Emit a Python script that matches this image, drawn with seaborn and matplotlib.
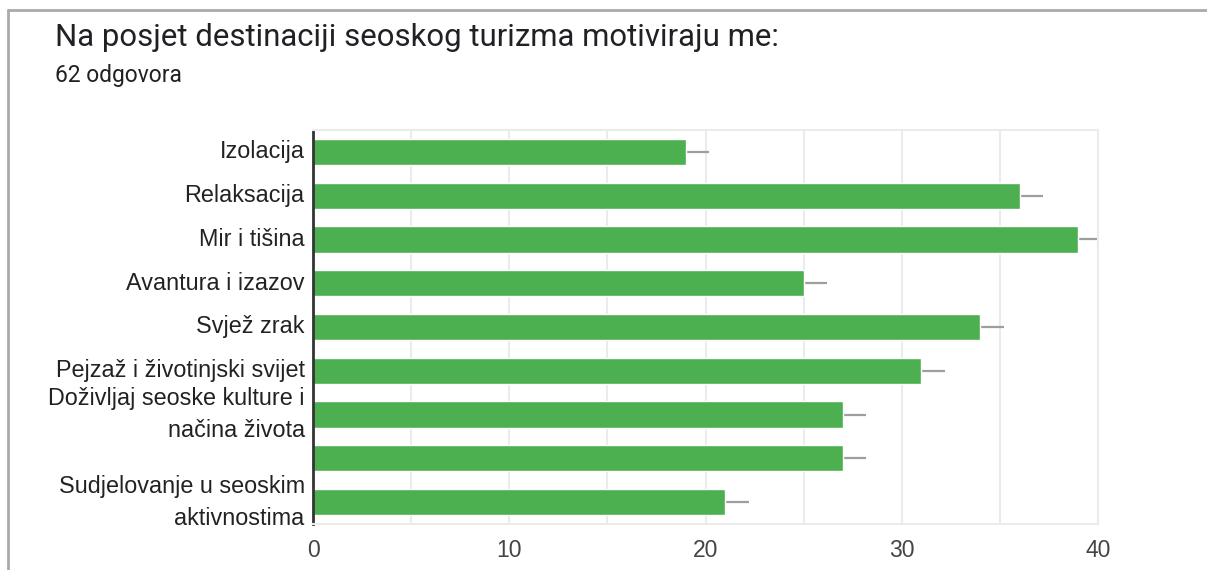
import numpy as np
import pandas as pd
import seaborn as sns
import matplotlib.pyplot as plt
import matplotlib.ticker as ticker
from matplotlib.lines import Line2D

# values
categories = ['Izolacija', 'Relaksacija', 'Mir i tišina', 'Avantura i izazov', 'Svjež zrak',
              'Pejzaž i životinjski svijet', 'Doživljaj seoske kulture i\nnačina života', ' ',
              'Sudjelovanje u seoskim\naktivnostima']
counts = [19, 36, 39, 25, 34, 31, 27, 27, 21]
err_hi = [1.2, 1.2, 1.1, 1.2, 1.2, 1.2, 1.2, 1.2, 1.2]
x_ticks = [0, 10, 20, 30, 40]

title = 'Na posjet destinaciji seoskog turizma motiviraju me:'
subtitle = '62 odgovora'

sns.set_theme(style='white')
plt.rcParams['font.family'] = ['Liberation Sans', 'DejaVu Sans']

df = pd.DataFrame({'kategorija': categories, 'broj': counts})

fig = plt.figure(figsize=(12.07, 5.70), dpi=100)
ax = fig.add_axes([313 / 1207, 1 - 524 / 570, (1098 - 313) / 1207, (524 - 130) / 570])

sns.barplot(data=df, x='broj', y='kategorija', orient='h', color='#4caf50',
            saturation=1, width=0.6, ax=ax, zorder=2)
ax.errorbar(df['broj'], np.arange(len(df)), xerr=[np.zeros(len(df)), err_hi],
            fmt='none', ecolor='#9e9e9e', elinewidth=1.6, capsize=0, zorder=1)

ax.set_xlim(0, 40)
ax.set_ylim(len(df) - 0.5, -0.5)
ax.xaxis.set_major_locator(ticker.FixedLocator(x_ticks))
ax.xaxis.set_minor_locator(ticker.MultipleLocator(5))
ax.grid(True, axis='x', which='both', color='#ebebeb', linewidth=1.5, zorder=0)
ax.set_axisbelow(True)
ax.set_xlabel('')
ax.set_ylabel('')

for side in ['top', 'right', 'bottom']:
    ax.spines[side].set_color('#ebebeb')
    ax.spines[side].set_linewidth(1.5)
ax.spines['left'].set_color('#333333')
ax.spines['left'].set_linewidth(2)

ax.tick_params(axis='x', which='both', length=0, pad=11, labelsize=16.5, labelcolor='#444444')
ax.tick_params(axis='y', length=0, pad=6, labelsize=16.8, labelcolor='#222222')
for lbl in ax.get_yticklabels():
    lbl.set_linespacing(1.5)
    lbl.set_verticalalignment('center')

fig.text(55 / 1207, 1 - 46 / 570, title, fontsize=22.4, color='#202124',
         family=['Roboto', 'DejaVu Sans'], va='baseline', ha='left')
fig.text(55 / 1207, 1 - 82 / 570, subtitle, fontsize=16.4, color='#202124',
         family=['Roboto', 'DejaVu Sans'], va='baseline', ha='left')

# frame of the card
fig.add_artist(Line2D([8 / 1207, 8 / 1207], [0, 1 - 10 / 570], color='#aaaaaa',
                      linewidth=2, transform=fig.transFigure))
fig.add_artist(Line2D([8 / 1207, 1], [1 - 10 / 570, 1 - 10 / 570], color='#aaaaaa',
                      linewidth=2, transform=fig.transFigure))

fig.savefig('out.png', dpi=100)
